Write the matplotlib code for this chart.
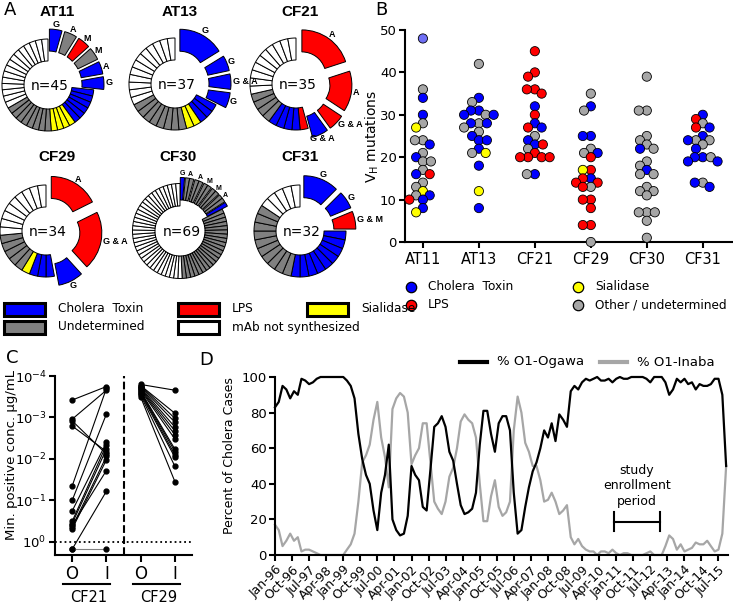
import numpy as np
import pandas as pd
import matplotlib
matplotlib.use("Agg")
import matplotlib.pyplot as plt
from matplotlib.patches import Wedge, Rectangle
from matplotlib.ticker import NullLocator

plt.rcParams['font.family'] = ['DejaVu Sans']

# ---------------------------
# Data
# ---------------------------
# A: donuts, segments clockwise from 12 o'clock: (specificity, n mAbs, clone label or None)
donut_names = ['AT11', 'AT13', 'CF21', 'CF29', 'CF30', 'CF31']
donut_n = [45, 37, 35, 34, 69, 32]
seg_at11 = [('ct', 2, 'G'), ('und', 2, 'A'), ('lps', 2, 'M'), ('und', 2, 'M'), ('ct', 2, 'A'),
            ('ct', 2, 'G'), ('ct', 6, None), ('sia', 4, None), ('und', 8, None), ('none', 15, None)]
seg_at13 = [('ct', 6, 'G'), ('ct', 2, 'G'), ('ct', 2, 'G & A'), ('ct', 2, 'G'), ('ct', 3, None),
            ('sia', 2, None), ('und', 8, None), ('none', 12, None)]
seg_cf21 = [('lps', 7, 'A'), ('lps', 5, 'A'), ('lps', 2, 'G & A'), ('ct', 2, 'G & A'), ('lps', 1, None),
            ('ct', 4, None), ('und', 4, None), ('none', 10, None)]
seg_cf29 = [('lps', 6, 'A'), ('lps', 7, 'G & A'), ('ct', 3, 'G'), ('ct', 3, None), ('sia', 1, None),
            ('und', 5, None), ('none', 9, None)]
seg_cf30 = [('ct', 1, 'G'), ('und', 2, 'A'), ('und', 2, 'A'), ('und', 2, 'M'), ('und', 2, 'M'),
            ('und', 2, 'A'), ('ct', 1, ''), ('und', 22, None), ('none', 35, None)]
seg_cf31 = [('ct', 4, 'G'), ('ct', 2, 'G'), ('lps', 2, 'G & M'), ('ct', 9, None), ('und', 10, None),
            ('none', 5, None)]
donut_segs = [seg_at11, seg_at13, seg_cf21, seg_cf29, seg_cf30, seg_cf31]

# B: VH mutations per donor; C=cholera toxin, P=cholera toxin (pale), L=LPS, S=sialidase, O=other
vh_at11 = [48, 36, 34, 30, 28, 27, 24, 24, 23, 21, 20, 19, 19, 17, 16, 16, 14, 13, 12, 11, 11, 10, 10, 8, 7]
sp_at11 = list('POCCOSOOCOCOOOCLOOSOCCLCS')
vh_at13 = [42, 34, 33, 31, 31, 30, 30, 30, 28, 28, 28, 27, 26, 25, 24, 24, 22, 21, 21, 18, 12, 8]
sp_at13 = list('OCOCCOCCOCCOOCCCCOSCSC')
vh_cf21 = [45, 40, 39, 36, 36, 35, 32, 30, 28, 27, 27, 25, 24, 23, 23, 22, 21, 20, 20, 20, 20, 16, 16]
sp_cf21 = list('LLLLLLCLCLCOCCLOLLLLLCO')
vh_cf29 = [35, 32, 31, 25, 25, 22, 21, 21, 20, 17, 17, 15, 15, 14, 14, 13, 13, 10, 10, 8, 4, 4, 0]
sp_cf29 = list('OCOCCOOCLLSCLLLOLLLLLLO')
vh_cf30 = [39, 31, 31, 25, 24, 23, 22, 22, 19, 18, 17, 16, 16, 13, 12, 12, 11, 7, 7, 7, 5, 1]
sp_cf30 = list('OOOOOOCOOOCOOOOOOOOOOO')
vh_cf31 = [30, 29, 28, 27, 27, 25, 24, 24, 24, 23, 22, 20, 20, 20, 19, 19, 14, 14, 13]
sp_cf31 = list('CLOLCCOOCOCCCOCCOCC')
vh_groups = [vh_at11, vh_at13, vh_cf21, vh_cf29, vh_cf30, vh_cf31]
sp_groups = [sp_at11, sp_at13, sp_cf21, sp_cf29, sp_cf30, sp_cf31]

# C: minimum positive concentration (ug/mL), Ogawa (O) vs Inaba (I); 1.5 = not detected
cf21_o = [3.8e-4, 1.1e-3, 1.2e-3, 1.6e-3, 4.5e-2, 1.0e-1, 1.8e-1, 3.2e-1, 3.6e-1, 4.0e-1, 4.4e-1, 4.9e-1, 1.5, 1.5]
cf21_i = [1.8e-4, 2.2e-4, 7.6e-3, 6.6e-3, 2.0e-4, 8.3e-4, 4.0e-3, 4.6e-3, 5.8e-3, 1.9e-2, 8.7e-3, 1.05e-2, 6.0e-2, 1.5]
cf29_o = [1.6e-4, 1.7e-4, 1.7e-4, 1.8e-4, 1.9e-4, 2.0e-4, 2.1e-4, 2.2e-4, 2.3e-4, 2.4e-4, 2.5e-4, 2.7e-4, 2.9e-4, 3.2e-4]
cf29_i = [2.2e-4, 7.9e-4, 1.05e-3, 1.3e-3, 1.7e-3, 2.1e-3, 2.6e-3, 3.3e-3, 5.8e-3, 6.6e-3, 7.9e-3, 9.1e-3, 1.5e-2, 3.5e-2]

# D: serotype share, every 2 months from Jan-96
ogawa = [83, 86, 95, 93, 88, 92, 90, 99, 98, 96,
         97, 99, 100, 100, 100, 100, 100, 100, 100, 98,
         95, 88, 68, 54, 45, 40, 25, 14, 35, 45,
         62, 20, 14, 11, 12, 22, 50, 45, 42, 27,
         25, 48, 72, 74, 78, 72, 58, 53, 40, 28,
         23, 24, 26, 35, 62, 81, 81, 68, 58, 74,
         78, 78, 70, 35, 12, 14, 27, 38, 47, 52,
         60, 70, 66, 74, 64, 79, 76, 72, 92, 95,
         93, 97, 99, 98, 99, 100, 98, 98, 99, 97,
         99, 100, 99, 99, 100, 100, 100, 100, 99, 97,
         100, 100, 100, 97, 90, 93, 99, 97, 99, 96,
         97, 93, 96, 95, 95, 96, 99, 99, 90, 50]
inaba = [17, 14, 5, 8, 12, 8, 10, 2, 3, 3,
         2, 1, 0, 0, 0, 0, 0, 0, 0, 3,
         6, 12, 30, 52, 56, 62, 76, 86, 66, 55,
         38, 82, 88, 91, 89, 80, 51, 56, 60, 74,
         74, 52, 30, 26, 23, 30, 44, 49, 60, 75,
         79, 76, 74, 66, 40, 19, 19, 33, 42, 27,
         22, 24, 30, 70, 89, 80, 63, 58, 50, 50,
         42, 30, 31, 35, 30, 23, 25, 28, 10, 6,
         9, 5, 3, 2, 2, 0, 2, 2, 1, 3,
         1, 0, 1, 1, 0, 0, 0, 0, 1, 2,
         0, 0, 0, 5, 11, 9, 3, 6, 2, 3,
         4, 7, 6, 6, 8, 5, 2, 3, 12, 50]
tick_dates = pd.date_range('1996-01-01', '2015-07-01', freq='9MS')
enroll_start, enroll_end = '2010-12-01', '2012-12-01'

# ---------------------------
# Figure
# ---------------------------
W, H = 733, 604
fig = plt.figure(figsize=(W / 100, H / 100), dpi=100)


def box(l, t, r, b):
    return [l / W, 1 - b / H, (r - l) / W, (b - t) / H]


ax0 = fig.add_axes([0, 0, 1, 1])
ax0.set_xlim(0, W)
ax0.set_ylim(H, 0)
ax0.axis('off')

seg_col = {'ct': '#0000ff', 'lps': '#ff0000', 'sia': '#ffff00', 'und': '#808080', 'none': 'white'}


def donut(ax, cx, cy, segs, n, R=46, rin=24, d=10, split=False, fs=6.5):
    step = 360 / n
    a = 0
    for cat, units, lab in segs:
        if lab is None:
            for k in range(units):
                a0 = -90 + a + k * step
                ax.add_patch(Wedge((cx, cy), R, a0, a0 + step, width=R - rin,
                                   fc=seg_col[cat], ec='black', lw=0.7))
        else:
            th = np.deg2rad(-90 + a + units * step / 2)
            ox, oy = cx + d * np.cos(th), cy + d * np.sin(th)
            pieces = [(a + k * step, step) for k in range(units)] if split else [(a, units * step)]
            for a0, w in pieces:
                ax.add_patch(Wedge((ox, oy), R, -90 + a0, -90 + a0 + w, width=R - rin,
                                   fc=seg_col[cat], ec='black', lw=0.7))
            if lab:
                if len(lab) > 1 and np.cos(th) > 0.5:
                    rl, ha = R + d + 2, 'left'
                else:
                    rl, ha = R + d + (4 if split else 5), 'center'
                ax.text(cx + rl * np.cos(th), cy + rl * np.sin(th), lab, ha=ha, va='center',
                        fontsize=fs, fontweight='bold', family='Liberation Sans')
        a += units * step


centers = [(48, 85), (175, 84), (296, 84), (46, 231), (180, 231), (300, 231)]
title_xy = [(57, 12), (180, 12), (300, 12), (57, 157), (178, 157), (300, 157)]
for i, (name, n, segs) in enumerate(zip(donut_names, donut_n, donut_segs)):
    cx, cy = centers[i]
    if name == 'CF30':
        donut(ax0, cx, cy, segs, n, R=47.5, rin=25, d=6, split=True, fs=5)
    else:
        donut(ax0, cx, cy, segs, n)
    ax0.text(*title_xy[i], name, ha='center', va='center', fontsize=11,
             fontweight='bold', family='Liberation Sans')
    ax0.text(cx + 2, cy + 1, f'n={n}', ha='center', va='center', fontsize=10)

# A legend
leg_a = [('ct', 'Cholera  Toxin', 4, 309), ('lps', 'LPS', 178, 309), ('sia', 'Sialidase', 307, 309),
         ('und', 'Undetermined', 4, 327), ('none', 'mAb not synthesized', 178, 327)]
for cat, txt, x, y in leg_a:
    ax0.add_patch(Rectangle((x, y - 6.5), 41, 13, fc=seg_col[cat], ec='black', lw=2.2))
    ax0.text(x + 54, y, txt, va='center', fontsize=8.7)

# ---------------------------
# B: VH mutations
# ---------------------------
axB = fig.add_axes(box(405, 30, 733, 242))
axB.set_xlim(-0.32, 5.54)
axB.set_ylim(0, 50)
sp_col = {'C': '#0000ff', 'P': '#6f6ff5', 'L': '#ff0000', 'S': '#ffff00', 'O': '#a6a6a6'}
xs = 328 / 5.86
ys = 212 / 50


def swarm(vals, diam=8.0):
    placed, offs = [], []
    for v in vals:
        y = v * ys
        cands = [0.0]
        for px, py in placed:
            dy = y - py
            if abs(dy) < diam:
                dx = np.sqrt(diam ** 2 - dy ** 2)
                cands += [px - dx, px + dx]
        cands.sort(key=abs)
        for c in cands:
            if all((c - px) ** 2 + (y - py) ** 2 >= diam ** 2 - 1e-6 for px, py in placed):
                break
        placed.append((c, y))
        offs.append(c / xs)
    return offs


for i, (vals, sps) in enumerate(zip(vh_groups, sp_groups)):
    offs = swarm(vals)
    axB.scatter([i + o for o in offs], vals, c=[sp_col[s] for s in sps], s=44,
                edgecolors='black', linewidths=0.6, zorder=3, clip_on=False)
axB.set_xticks(range(6))
axB.set_xticklabels(donut_names)
axB.set_yticks(range(0, 51, 10))
for s in ['top', 'right']:
    axB.spines[s].set_visible(False)
for s in ['left', 'bottom']:
    axB.spines[s].set_linewidth(1.5)
axB.tick_params(width=1.5, length=4, labelsize=10.5, pad=3)
axB.tick_params(axis='y', labelsize=9.5, pad=2)
axB.set_ylabel('V$_\\mathrm{H}$ mutations', fontsize=10)
axB.yaxis.set_label_coords(-0.073, 0.5)

leg_b = [('C', 'Cholera  Toxin', 411, 287), ('S', 'Sialidase', 578, 287),
         ('L', 'LPS', 411, 305), ('O', 'Other / undetermined', 578, 305)]
for s, txt, x, y in leg_b:
    ax0.plot(x, y, 'o', ms=7.5, mfc=sp_col[s], mec='black', mew=0.9)
    ax0.text(x + 17, y, txt, va='center', fontsize=8.7)

# ---------------------------
# C: Ogawa vs Inaba binding
# ---------------------------
axC = fig.add_axes(box(55, 376, 192, 555))
axC.set_yscale('log')
for xo, olist, ilist in [(0, cf21_o, cf21_i), (2, cf29_o, cf29_i)]:
    for o, v in zip(olist, ilist):
        col = '#808080' if (o > 1 and v > 1) else 'black'
        axC.plot([xo, xo + 1], [o, v], '-', color=col, lw=0.8, clip_on=False)
        axC.plot([xo, xo + 1], [o, v], 'o', color='black', ms=3.5, clip_on=False)
axC.set_xlim(-0.5, 3.5)
axC.set_ylim(2.06, 1e-4)
axC.axhline(1, ls=':', color='black', lw=1.3)
axC.axvline(1.5, ls='--', color='black', lw=1.5)
axC.set_yticks([1e-4, 1e-3, 1e-2, 1e-1, 1e0])
axC.yaxis.set_minor_locator(NullLocator())
axC.set_xticks([0, 1, 2, 3])
axC.set_xticklabels(['O', 'I', 'O', 'I'], fontsize=12)
for s in ['top', 'right']:
    axC.spines[s].set_visible(False)
for s in ['left', 'bottom']:
    axC.spines[s].set_linewidth(1.5)
axC.tick_params(width=1.5, length=5, pad=2)
axC.tick_params(axis='y', labelsize=9.5, length=4)
axC.set_ylabel('Min. positive conc. µg/mL', fontsize=9.5)
axC.yaxis.set_label_coords(-0.272, 0.56)
for (x1, x2), name in zip([(63, 110), (133, 180)], ['CF21', 'CF29']):
    ax0.plot([x1, x2], [584, 584], color='black', lw=1.5)
    ax0.text((x1 + x2) / 2 + 2, 597, name, ha='center', va='center', fontsize=10.5)

# ---------------------------
# D: Ogawa / Inaba over time
# ---------------------------
axD = fig.add_axes(box(275, 377, 728, 555))
dates = pd.date_range('1996-01-01', periods=len(ogawa), freq='2MS')
axD.plot(dates, ogawa, color='black', lw=1.6, clip_on=False, zorder=3)
axD.plot(dates, inaba, color='#a6a6a6', lw=1.6, clip_on=False, zorder=2)
axD.set_xlim(pd.Timestamp('1996-01-01'), pd.Timestamp('2015-12-01'))
axD.set_ylim(0, 100)
axD.set_yticks(range(0, 101, 20))
axD.set_xticks(tick_dates)
axD.set_xticklabels([t.strftime('%b-%y') for t in tick_dates], rotation=45, ha='right',
                    rotation_mode='anchor', fontsize=9)
for s in ['top', 'right']:
    axD.spines[s].set_visible(False)
for s in ['left', 'bottom']:
    axD.spines[s].set_linewidth(1.5)
axD.tick_params(width=1.5, length=4, pad=2)
axD.tick_params(axis='y', labelsize=9.5)
axD.set_ylabel('Percent of Cholera Cases', fontsize=9)
axD.yaxis.set_label_coords(-0.086, 0.56)
e0, e1 = pd.Timestamp(enroll_start), pd.Timestamp(enroll_end)
axD.plot([e0, e1], [18.7, 18.7], color='black', lw=1.5)
axD.plot([e0, e0], [13.5, 24], color='black', lw=1.5)
axD.plot([e1, e1], [13.5, 24], color='black', lw=1.5)
axD.text(e0 + (e1 - e0) / 2, 39, 'study\nenrollment\nperiod', ha='center', va='center',
         fontsize=9, linespacing=1.25)

ax0.plot([460, 487], [362, 362], color='black', lw=3)
ax0.text(497, 362, '% O1-Ogawa', va='center', fontsize=9.5)
ax0.plot([600, 627], [362, 362], color='#a6a6a6', lw=3)
ax0.text(637, 362, '% O1-Inaba', va='center', fontsize=9.5)

# panel letters
for letter, x, y in [('A', 10, 10), ('B', 381, 10), ('C', 12, 358), ('D', 206, 360)]:
    ax0.text(x, y, letter, ha='center', va='center', fontsize=13)

fig.savefig('out.png', dpi=100)
